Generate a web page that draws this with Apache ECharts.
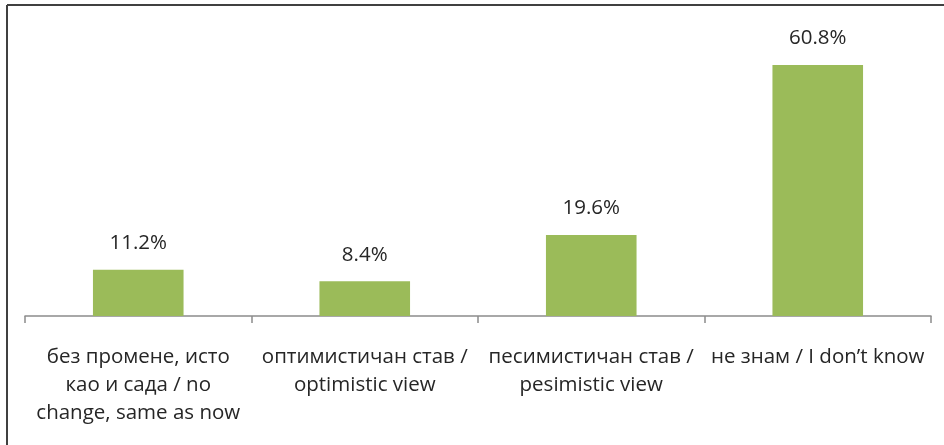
<!DOCTYPE html>
<html><head><meta charset="utf-8">
<script src="https://cdn.jsdelivr.net/npm/echarts@6/dist/echarts.min.js"></script>
<style>html,body{margin:0;padding:0;background:#fff}#c{width:944px;height:445px}</style>
</head><body><div id="c"></div>
<script>
const categories = [
  "без промене, исто\nкао и сада / no\nchange, same as now",
  "оптимистичан став /\noptimistic view",
  "песимистичан став /\npesimistic view",
  "не знам / I don’t know"
];
const values = [11.2, 8.4, 19.6, 60.8];

const chart = echarts.init(document.getElementById('c'), null, {renderer: 'canvas'});
chart.setOption({
  animation: false,
  backgroundColor: '#fff',
  grid: {left: 25, right: 13, top: 29, bottom: 129},
  xAxis: {
    type: 'category',
    data: categories,
    axisLine: {lineStyle: {color: '#8c8c8c', width: 1.5}},
    axisTick: {show: true, length: 7, lineStyle: {color: '#8c8c8c', width: 1.5}},
    axisLabel: {
      interval: 0, margin: 27, color: '#262626', fontFamily: 'Open Sans',
      fontSize: 20.5, lineHeight: 28
    }
  },
  yAxis: {type: 'value', min: 0, max: 69.5, show: false, splitLine: {show: false}},
  series: [{
    type: 'bar',
    data: values,
    barWidth: '40%',
    itemStyle: {color: '#9bbb59'},
    label: {
      show: true, position: 'top', distance: 16,
      formatter: p => p.value.toFixed(1) + '%',
      color: '#262626', fontFamily: 'Open Sans', fontSize: 20.5
    }
  }],
  graphic: [
    {type: 'line', shape: {x1: 7, y1: 5, x2: 944, y2: 5}, style: {stroke: '#404040', lineWidth: 2}},
    {type: 'line', shape: {x1: 7, y1: 5, x2: 7, y2: 445}, style: {stroke: '#404040', lineWidth: 2}}
  ]
});
</script></body></html>
